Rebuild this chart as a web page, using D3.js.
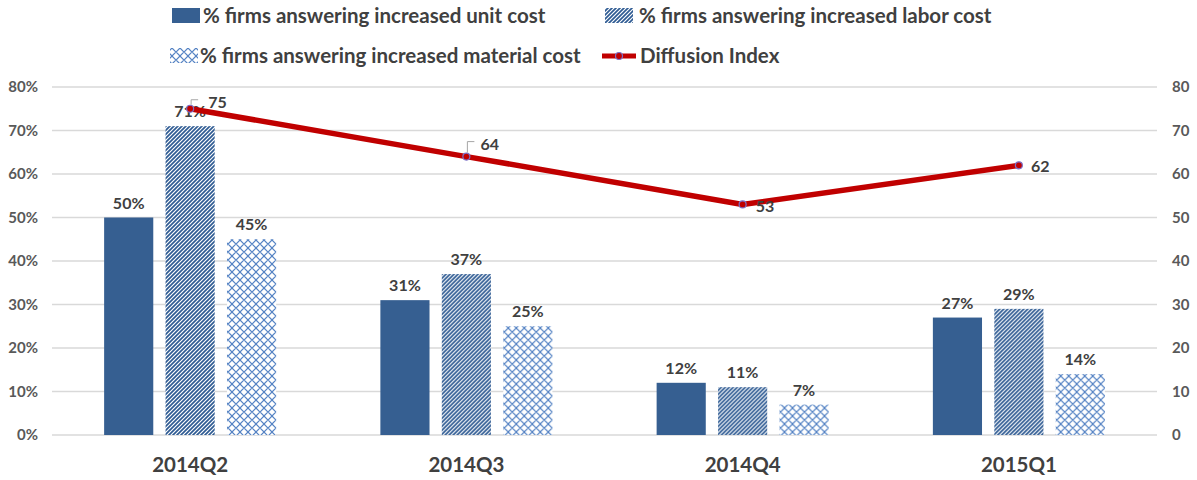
<!DOCTYPE html>
<html>
<head>
<meta charset="utf-8">
<script src="https://cdn.jsdelivr.net/npm/d3@7"></script>
<style>
  html, body { margin: 0; padding: 0; background: #fff; }
  #main { width: 1197px; height: 480px; }
  text { font-family: Lato, "Open Sans", sans-serif; }
</style>
</head>
<body>
<div id="main"></div>
<script>
// chart values
const categories = ["2014Q2", "2014Q3", "2014Q4", "2015Q1"];
const seriesNames = [
    "% firms answering increased unit cost",
    "% firms answering increased labor cost",
    "% firms answering increased material cost"
];
const unitCost = [50, 31, 12, 27];
const laborCost = [71, 37, 11, 29];
const materialCost = [45, 25, 7, 14];
const diffusionIndex = [75, 64, 53, 62];
const lineName = "Diffusion Index";
const leftTicks = [0, 10, 20, 30, 40, 50, 60, 70, 80];
const rightTicks = [0, 10, 20, 30, 40, 50, 60, 70, 80];

const chartCtx = {
    WIDTH: 1197,
    HEIGHT: 480,
    LEFT: 52,
    RIGHT: 1157,
    TOP: 87,
    BOTTOM: 435,
    GROUP_SPAN: 172,
    UNIT_COLOR: "#365f91",
    LABOR_COLOR: "#2f5b93",
    MATERIAL_COLOR: "#5583c4",
    LINE_COLOR: "#c00000",
    MARKER_STROKE: "#7b6fc6",
    GRID_COLOR: "#d9d9d9",
    TICK_COLOR: "#595959",
    TEXT_COLOR: "#404040",
    LEADER_COLOR: "#a6a6a6"
};

// label placement for the diffusion points (offset from the marker)
const diffLabelPos = [
    { dx: 18, dy: -6, leader: true },
    { dx: 14, dy: -12, leader: true },
    { dx: 13, dy: 2, leader: false },
    { dx: 12, dy: 1, leader: false }
];

function drawChart() {

    const svg = d3.select("#main").append("svg")
        .attr("width", chartCtx.WIDTH)
        .attr("height", chartCtx.HEIGHT);

    const defs = svg.append("defs");

    // wide upward diagonal for labor cost
    const pLabor = defs.append("pattern")
        .attr("id", "patLabor")
        .attr("patternUnits", "userSpaceOnUse")
        .attr("width", 4).attr("height", 4);
    pLabor.append("rect").attr("width", 4).attr("height", 4).attr("fill", "#fff");
    pLabor.append("path")
        .attr("d", "M-1,1 L1,-1 M0,4 L4,0 M3,5 L5,3")
        .attr("stroke", chartCtx.LABOR_COLOR)
        .attr("stroke-width", 1.7);

    // trellis for material cost
    const pMat = defs.append("pattern")
        .attr("id", "patMaterial")
        .attr("patternUnits", "userSpaceOnUse")
        .attr("width", 8).attr("height", 8);
    pMat.append("rect").attr("width", 8).attr("height", 8).attr("fill", "#fff");
    pMat.append("path")
        .attr("d", "M0,4 L4,0 L8,4 L4,8 Z")
        .attr("fill", "none")
        .attr("stroke", chartCtx.MATERIAL_COLOR)
        .attr("stroke-width", 1.2);

    const fills = [chartCtx.UNIT_COLOR, "url(#patLabor)", "url(#patMaterial)"];
    const seriesValues = [unitCost, laborCost, materialCost];

    let x = d3.scaleBand()
        .domain(categories)
        .range([chartCtx.LEFT, chartCtx.RIGHT]);

    let bw = x.bandwidth();
    let x1 = d3.scaleBand()
        .domain(d3.range(seriesNames.length))
        .range([(bw - chartCtx.GROUP_SPAN) / 2, (bw + chartCtx.GROUP_SPAN) / 2])
        .paddingInner(0.2);

    let yLeft = d3.scaleLinear().domain([0, 80]).range([chartCtx.BOTTOM, chartCtx.TOP]);
    let yRight = d3.scaleLinear().domain([0, 80]).range([chartCtx.BOTTOM, chartCtx.TOP]);

    // gridlines
    svg.append("g")
        .selectAll("line")
        .data(leftTicks)
        .enter()
        .append("line")
        .attr("x1", chartCtx.LEFT)
        .attr("x2", chartCtx.RIGHT)
        .attr("y1", d => yLeft(d))
        .attr("y2", d => yLeft(d))
        .attr("stroke", chartCtx.GRID_COLOR)
        .attr("stroke-width", 1.5);

    // left axis
    let leftAxis = d3.axisLeft(yLeft)
        .tickValues(leftTicks)
        .tickFormat(d => d + "%")
        .tickSize(0)
        .tickPadding(14);
    let gL = svg.append("g")
        .attr("transform", `translate(${chartCtx.LEFT},0)`)
        .call(leftAxis);
    gL.select(".domain").remove();
    gL.selectAll("text")
        .attr("fill", chartCtx.TICK_COLOR)
        .style("font-size", "15px")
        .style("font-weight", "bold")
        .style("font-family", "Lato, sans-serif");

    // right axis
    let rightAxis = d3.axisRight(yRight)
        .tickValues(rightTicks)
        .tickSize(0)
        .tickPadding(15);
    let gR = svg.append("g")
        .attr("transform", `translate(${chartCtx.RIGHT},0)`)
        .call(rightAxis);
    gR.select(".domain").remove();
    gR.selectAll("text")
        .attr("fill", chartCtx.TICK_COLOR)
        .style("font-size", "15px")
        .style("font-weight", "bold")
        .style("font-family", "Lato, sans-serif");

    // x axis labels
    let bottomAxis = d3.axisBottom(x).tickSize(0).tickPadding(22);
    let gB = svg.append("g")
        .attr("transform", `translate(0,${chartCtx.BOTTOM})`)
        .call(bottomAxis);
    gB.select(".domain").remove();
    gB.selectAll("text")
        .attr("fill", chartCtx.TEXT_COLOR)
        .style("font-size", "20.5px")
        .style("font-weight", "bold")
        .style("font-family", "Lato, sans-serif");

    // bars
    let groups = svg.append("g")
        .selectAll("g.cat")
        .data(categories)
        .enter()
        .append("g")
        .attr("class", "cat")
        .attr("transform", d => `translate(${x(d)},0)`);

    groups.selectAll("rect")
        .data((c, i) => seriesValues.map((vals, s) => ({ s: s, v: vals[i] })))
        .enter()
        .append("rect")
        .attr("x", d => x1(d.s))
        .attr("width", x1.bandwidth())
        .attr("y", d => yLeft(d.v))
        .attr("height", d => chartCtx.BOTTOM - yLeft(d.v))
        .attr("fill", d => fills[d.s]);

    groups.selectAll("text.barLabel")
        .data((c, i) => seriesValues.map((vals, s) => ({ s: s, v: vals[i] })))
        .enter()
        .append("text")
        .attr("class", "barLabel")
        .attr("x", d => x1(d.s) + x1.bandwidth() / 2)
        .attr("y", d => yLeft(d.v) - 9)
        .attr("text-anchor", "middle")
        .attr("fill", chartCtx.TEXT_COLOR)
        .style("font-size", "16px")
        .style("font-weight", "bold")
        .text(d => d.v + "%");

    // diffusion line
    let pts = categories.map((c, i) => [x(c) + bw / 2, yRight(diffusionIndex[i])]);

    svg.append("path")
        .attr("d", d3.line()(pts))
        .attr("fill", "none")
        .attr("stroke", chartCtx.LINE_COLOR)
        .attr("stroke-width", 5.5)
        .attr("stroke-linejoin", "round");

    svg.append("g")
        .selectAll("circle")
        .data(pts)
        .enter()
        .append("circle")
        .attr("cx", d => d[0])
        .attr("cy", d => d[1])
        .attr("r", 3.5)
        .attr("fill", chartCtx.LINE_COLOR)
        .attr("stroke", chartCtx.MARKER_STROKE)
        .attr("stroke-width", 1.2);

    // leader lines for the crowded labels
    svg.append("g")
        .selectAll("path")
        .data(pts.map((p, i) => ({ p: p, pos: diffLabelPos[i] })).filter(d => d.pos.leader))
        .enter()
        .append("path")
        .attr("d", d => {
            let px = d.p[0] + 1, py = d.p[1] - 4;
            let ty = d.p[1] + d.pos.dy - 3;
            return `M${px},${py} L${px},${ty} L${px + 7},${ty}`;
        })
        .attr("fill", "none")
        .attr("stroke", chartCtx.LEADER_COLOR)
        .attr("stroke-width", 1);

    svg.append("g")
        .selectAll("text")
        .data(pts.map((p, i) => ({ p: p, v: diffusionIndex[i], pos: diffLabelPos[i] })))
        .enter()
        .append("text")
        .attr("x", d => d.p[0] + d.pos.dx)
        .attr("y", d => d.p[1] + d.pos.dy)
        .attr("dy", "0.35em")
        .attr("fill", chartCtx.TEXT_COLOR)
        .style("font-size", "16px")
        .style("font-weight", "bold")
        .text(d => d.v);

    // legend
    const legendItems = [
        { name: seriesNames[0], kind: "rect", fill: fills[0], sx: 172, tx: 203, y: 16 },
        { name: seriesNames[1], kind: "rect", fill: fills[1], sx: 605, tx: 639, y: 16 },
        { name: seriesNames[2], kind: "rect", fill: fills[2], sx: 170, tx: 200, y: 56 },
        { name: lineName, kind: "line", sx: 602, tx: 640, y: 56 }
    ];

    let lg = svg.append("g")
        .selectAll("g.legendItem")
        .data(legendItems)
        .enter()
        .append("g")
        .attr("class", "legendItem");

    lg.filter(d => d.kind === "rect")
        .append("rect")
        .attr("x", d => d.sx)
        .attr("y", d => d.y - 8)
        .attr("width", 28)
        .attr("height", 15)
        .attr("fill", d => d.fill);

    let ll = lg.filter(d => d.kind === "line");
    ll.append("line")
        .attr("x1", d => d.sx)
        .attr("x2", d => d.sx + 34)
        .attr("y1", d => d.y)
        .attr("y2", d => d.y)
        .attr("stroke", chartCtx.LINE_COLOR)
        .attr("stroke-width", 5);
    ll.append("circle")
        .attr("cx", d => d.sx + 17)
        .attr("cy", d => d.y)
        .attr("r", 3.5)
        .attr("fill", chartCtx.LINE_COLOR)
        .attr("stroke", chartCtx.MARKER_STROKE)
        .attr("stroke-width", 1.2);

    lg.append("text")
        .attr("x", d => d.tx)
        .attr("y", d => d.y)
        .attr("dy", "0.36em")
        .attr("fill", chartCtx.TEXT_COLOR)
        .style("font-size", "20.5px")
        .style("font-weight", "bold")
        .text(d => d.name);
}

drawChart();
</script>
</body>
</html>
